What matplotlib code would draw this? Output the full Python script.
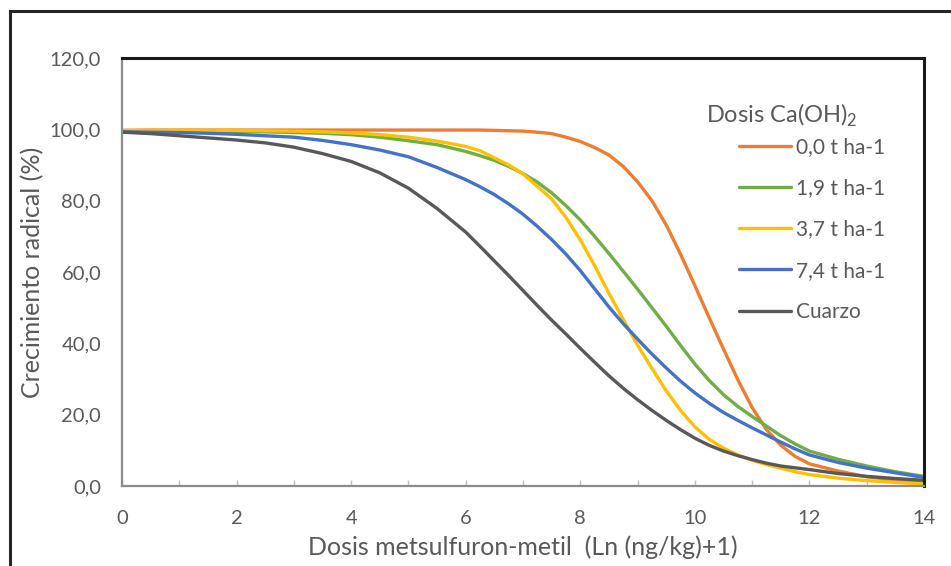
import matplotlib.pyplot as plt
from matplotlib.lines import Line2D
from matplotlib.ticker import MultipleLocator

plt.rcParams['font.family'] = ['Lato', 'DejaVu Sans']
plt.rcParams['mathtext.fontset'] = 'custom'
plt.rcParams['mathtext.rm'] = 'Lato'

# Datos (eje x: Ln(ng/kg)+1)
dosis = [0, 0.5, 1, 1.5, 2, 2.5, 3, 3.5, 4, 4.5, 5, 5.5,
         6, 6.25, 6.5, 6.75, 7, 7.25, 7.5, 7.75, 8, 8.25, 8.5, 8.75, 9,
         9.25, 9.5, 9.75, 10, 10.25, 10.5, 10.75, 11, 11.25, 11.5, 11.75, 12,
         12.5, 13, 13.5, 14]

ca_00 = [99.7, 99.8, 99.8, 99.8, 99.8, 99.8, 99.8, 99.8, 99.8, 99.8, 99.8, 99.8,
         99.8, 99.8, 99.7, 99.6, 99.5, 99.2, 98.8, 97.8, 96.6, 94.9, 92.8, 89.6, 85.3,
         80.0, 73.2, 65.0, 56.2, 47.2, 38.4, 29.8, 22.0, 15.8, 11.4, 8.3, 6.2,
         4.2, 2.6, 1.6, 1.0]
ca_19 = [99.5, 99.5, 99.5, 99.4, 99.4, 99.3, 99.1, 98.9, 98.5, 97.8, 96.8, 95.7,
         93.8, 92.6, 91.3, 89.6, 87.6, 85.2, 82.2, 78.6, 74.6, 70.0, 65.2, 60.2, 55.2,
         50.0, 44.8, 39.4, 34.2, 29.6, 25.6, 22.3, 19.5, 16.8, 14.1, 11.8, 9.8,
         7.5, 5.6, 4.0, 2.7]
ca_37 = [99.7, 99.7, 99.7, 99.7, 99.7, 99.6, 99.5, 99.3, 99.0, 98.5, 97.8, 96.7,
         95.2, 94.0, 92.0, 90.0, 87.5, 84.0, 80.5, 75.3, 69.0, 61.8, 54.0, 46.7, 39.5,
         33.0, 26.7, 21.2, 16.6, 13.1, 10.6, 8.7, 7.2, 6.0, 5.0, 4.0, 3.2,
         2.2, 1.5, 1.0, 0.6]
ca_74 = [99.3, 99.2, 99.1, 98.9, 98.6, 98.2, 97.8, 96.9, 95.7, 94.2, 92.3, 89.3,
         85.9, 83.9, 81.7, 79.1, 76.2, 72.8, 69.1, 65.0, 60.4, 55.3, 50.2, 45.5, 41.2,
         37.0, 33.1, 29.4, 26.1, 23.2, 20.6, 18.4, 16.3, 14.3, 12.3, 10.4, 8.7,
         6.6, 5.0, 3.7, 2.4]
cuarzo = [99.2, 98.8, 98.2, 97.6, 97.0, 96.2, 95.0, 93.2, 91.0, 87.8, 83.5, 77.8,
          71.2, 67.2, 63.1, 59.0, 54.8, 50.6, 46.5, 42.6, 38.6, 34.7, 30.9, 27.4, 24.2,
          21.2, 18.4, 15.8, 13.4, 11.4, 9.8, 8.5, 7.4, 6.4, 5.6, 5.1, 4.6,
          3.5, 2.7, 2.1, 1.6]

series = [ca_00, ca_19, ca_37, ca_74, cuarzo]
etiquetas = ['0,0 t ha-1', '1,9 t ha-1', '3,7 t ha-1', '7,4 t ha-1', 'Cuarzo']
colores = ['#ED7D31', '#70AD47', '#FFC000', '#4472C4', '#595959']

y_ticks = [0, 20, 40, 60, 80, 100, 120]
y_tick_labels = ['0,0', '20,0', '40,0', '60,0', '80,0', '100,0', '120,0']
x_ticks = [0, 2, 4, 6, 8, 10, 12, 14]

gris_texto = '#595959'


def create_chart():
    fig = plt.figure(figsize=(9.51, 5.66), dpi=100)
    ax = fig.add_axes([122 / 951, 1 - 486 / 566, 802 / 951, 428 / 566])

    # Curvas
    for valores, etiqueta, color in zip(series, etiquetas, colores):
        ax.plot(dosis, valores, color=color, linewidth=2.4, label=etiqueta,
                solid_capstyle='round', solid_joinstyle='round')

    ax.set_xlim(0, 14)
    ax.set_ylim(0, 120)

    ax.set_yticks(y_ticks)
    ax.set_yticklabels(y_tick_labels)
    ax.set_xticks(x_ticks)
    ax.xaxis.set_minor_locator(MultipleLocator(1))

    ax.tick_params(axis='y', length=0, pad=15, labelsize=14.5, labelcolor=gris_texto)
    ax.tick_params(axis='x', which='both', direction='in', length=4, width=1,
                   color='#bfbfbf', pad=17, labelsize=14.5, labelcolor=gris_texto)

    # Bordes
    for lado in ['top', 'right']:
        ax.spines[lado].set_color('#1a1a1a')
        ax.spines[lado].set_linewidth(2.2)
    for lado in ['left', 'bottom']:
        ax.spines[lado].set_color('#8c8c8c')
        ax.spines[lado].set_linewidth(1.6)

    ax.set_xlabel('Dosis metsulfuron-metil  (Ln (ng/kg)+1)', fontsize=18,
                  color=gris_texto, labelpad=6)
    ax.set_ylabel('Crecimiento radical (%)', fontsize=18, color=gris_texto, labelpad=4)

    # Leyenda
    fig.text(706 / 951, 1 - 115 / 566, r'Dosis Ca(OH)$_\mathregular{2}$', fontsize=17,
             color=gris_texto, ha='left', va='center')
    leg = ax.legend(loc='upper left', bbox_to_anchor=(739 / 951, 1 - 137 / 566),
                    bbox_transform=fig.transFigure, frameon=False, borderpad=0,
                    borderaxespad=0, handlelength=2.5, handletextpad=0.25,
                    labelspacing=1.02, fontsize=15)
    for texto in leg.get_texts():
        texto.set_color(gris_texto)

    # Marco exterior del gráfico
    fig.add_artist(Line2D([10 / 951, 1], [1 - 11 / 566, 1 - 11 / 566],
                          color='#262626', linewidth=2.2))
    fig.add_artist(Line2D([10 / 951, 10 / 951], [0, 1 - 11 / 566],
                          color='#262626', linewidth=2.2))

    fig.savefig('out.png', dpi=100)
    plt.close(fig)


create_chart()
